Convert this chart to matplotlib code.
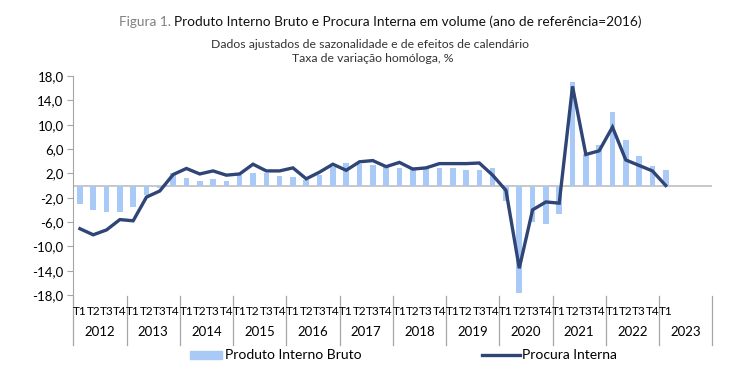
import numpy as np
import matplotlib
matplotlib.use("Agg")
import matplotlib.pyplot as plt
from matplotlib.patches import Rectangle
from matplotlib.lines import Line2D

plt.rcParams['font.family'] = ['Lato', 'DejaVu Sans']

# dados (taxa de variação homóloga, %)
anos = ['2012', '2013', '2014', '2015', '2016', '2017', '2018', '2019',
        '2020', '2021', '2022', '2023']
trimestres = ['T1', 'T2', 'T3', 'T4'] * 11 + ['T1']
pib = [-3.1, -4.0, -4.3, -4.3, -3.5, -1.5, -0.4, 2.0,
       1.3, 0.7, 1.1, 0.7, 1.8, 2.0, 2.1, 1.6,
       1.4, 0.9, 1.8, 3.1, 3.7, 3.6, 3.3, 3.1,
       2.8, 3.1, 2.9, 2.8, 2.8, 2.6, 2.6, 2.8,
       -2.6, -17.6, -6.0, -6.4, -4.7, 17.0, 5.1, 6.6,
       12.1, 7.4, 4.8, 3.2, 2.6]
procura = [-7.1, -8.1, -7.3, -5.6, -5.8, -1.9, -0.9, 1.8,
           2.8, 1.9, 2.4, 1.7, 1.9, 3.5, 2.4, 2.4,
           2.9, 1.1, 2.2, 3.5, 2.5, 3.9, 4.1, 3.1,
           3.8, 2.7, 2.9, 3.6, 3.6, 3.6, 3.7, 1.7,
           -0.8, -13.6, -4.0, -2.7, -2.9, 16.3, 5.1, 5.7,
           9.6, 4.2, 3.3, 2.4, 0.0]

cor_barra = '#A9CAF7'
cor_linha = '#2E4576'
cinza = '#BFBFBF'

fig = plt.figure(figsize=(7.4, 3.89), dpi=100)
ax = fig.add_axes([0.099, 0.2416, 0.8636, 0.563])

x = np.arange(len(pib)) + 0.5
ax.bar(x, pib, width=0.42, color=cor_barra, zorder=2)
ax.axhline(0, color=cinza, lw=1.2, zorder=1)
ax.plot(x, procura, color=cor_linha, lw=2.4, zorder=3, solid_joinstyle='miter')

ax.set_xlim(0, 48)
ax.set_ylim(-18, 18)
yt = np.arange(-18, 19, 4)
ax.set_yticks(yt)
ax.set_yticklabels([f'{v:.1f}'.replace('.', ',') for v in yt], fontsize=9.5)
ax.set_xticks([])
for s in ['top', 'right', 'bottom']:
    ax.spines[s].set_visible(False)
ax.spines['left'].set_color('#A6A6A6')
ax.tick_params(axis='y', length=4, color='#A6A6A6', pad=3)

# rótulos do eixo de categorias
tr = ax.get_xaxis_transform()
for i, t in enumerate(trimestres):
    ax.text(i + 0.5, -0.075, t, transform=tr, ha='center', va='center', fontsize=8.5)
for k, a in enumerate(anos):
    ax.text(4 * k + 2, -0.17, a, transform=tr, ha='center', va='center', fontsize=9.5)
for k in range(len(anos) + 1):
    ax.plot([4 * k, 4 * k], [-0.005, -0.23], transform=tr, color='#A6A6A6',
            lw=0.9, clip_on=False)

# título
fig.text(171 / 740, 0.943, 'Figura 1.', color='#808080', fontsize=9.8,
         va='center', ha='right')
fig.text(174 / 740, 0.943, 'Produto Interno Bruto e Procura Interna em volume (ano de referência=2016)',
         color='#111111', fontsize=9.8, va='center', ha='left')
fig.text(370 / 740, 1 - 44 / 389, 'Dados ajustados de sazonalidade e de efeitos de calendário',
         ha='center', va='center', fontsize=8.8, color='#333333')
fig.text(373 / 740, 1 - 58 / 389, 'Taxa de variação homóloga, %',
         ha='center', va='center', fontsize=8.8, color='#333333')

# legenda
ly = 1 - 355 / 389
fig.add_artist(Rectangle((190 / 740, ly - 4 / 389), 32 / 740, 8 / 389,
                         transform=fig.transFigure, color=cor_barra))
fig.text(225 / 740, ly, 'Produto Interno Bruto', va='center', fontsize=10)
fig.add_artist(Line2D([482 / 740, 520 / 740], [ly, ly], transform=fig.transFigure,
                      color=cor_linha, lw=2.4))
fig.text(522 / 740, ly, 'Procura Interna', va='center', fontsize=10)

fig.savefig('out.png', dpi=100)
